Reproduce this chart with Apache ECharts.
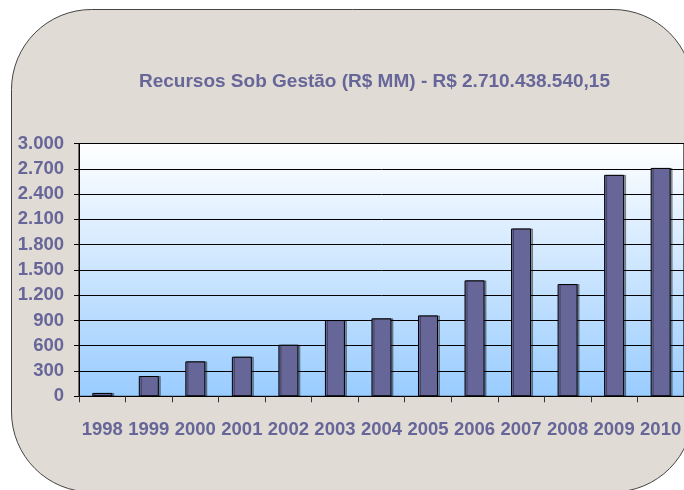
<!DOCTYPE html>
<html>
<head>
<meta charset="utf-8">
<script src="https://cdn.jsdelivr.net/npm/echarts@6/dist/echarts.min.js"></script>
<style>
html,body{margin:0;padding:0;background:#fff;}
#chart{width:684px;height:490px;}
</style>
</head>
<body>
<div id="chart"></div>
<script>
var titleText = 'Recursos Sob Gestão (R$ MM) - R$ 2.710.438.540,15';
var categories = ['1998','1999','2000','2001','2002','2003','2004','2005','2006','2007','2008','2009','2010'];
var values = [40, 241, 415, 470, 612, 905, 925, 960, 1376, 1992, 1332, 2628, 2710];
var yMin = 0, yMax = 3000, yStep = 300;

var textColor = '#666699';
var font = "'Liberation Sans', Arial, sans-serif";

var chart = echarts.init(document.getElementById('chart'));
chart.setOption({
  backgroundColor: '#ffffff',
  animation: false,
  graphic: [{
    type: 'rect',
    z: -100,
    silent: true,
    shape: { x: 11.5, y: 9.5, width: 681.5, height: 482.5, r: 80 },
    style: { fill: '#e1dbd5', stroke: '#444444', lineWidth: 1 }
  }],
  title: {
    text: titleText,
    left: 139,
    top: 72,
    padding: 0,
    textStyle: { color: textColor, fontSize: 19, fontWeight: 'bold', fontFamily: font }
  },
  grid: {
    left: 79, top: 143.5, right: -6, bottom: 93.7,
    show: true,
    borderColor: '#000000',
    borderWidth: 1,
    backgroundColor: {
      type: 'linear', x: 0, y: 0, x2: 0, y2: 1,
      colorStops: [{ offset: 0, color: '#ffffff' }, { offset: 1, color: '#99ccff' }]
    }
  },
  xAxis: {
    type: 'category',
    data: categories,
    axisLine: { lineStyle: { color: '#000000', width: 1 } },
    axisTick: { show: true, length: 6, lineStyle: { color: '#333333' } },
    axisLabel: { color: textColor, fontSize: 18.5, fontWeight: 'bold', fontFamily: font, margin: 24, interval: 0 }
  },
  yAxis: {
    type: 'value',
    min: yMin, max: yMax, interval: yStep,
    axisLine: { show: true, lineStyle: { color: '#000000', width: 1 } },
    axisTick: { show: true, length: 5, lineStyle: { color: '#000000' } },
    splitLine: { show: true, lineStyle: { color: '#000000', width: 1 } },
    axisLabel: {
      color: textColor, fontSize: 18.5, fontWeight: 'bold', fontFamily: font, margin: 15,
      formatter: function (v) { return String(v).replace(/\B(?=(\d{3})+(?!\d))/g, '.'); }
    }
  },
  series: [{
    type: 'bar',
    data: values,
    barWidth: 20,
    itemStyle: {
      color: '#666699', borderColor: '#000000', borderWidth: 1,
      shadowColor: 'rgba(0,0,0,0.35)', shadowOffsetX: 2, shadowOffsetY: 0, shadowBlur: 0
    }
  }]
});
</script>
</body>
</html>
